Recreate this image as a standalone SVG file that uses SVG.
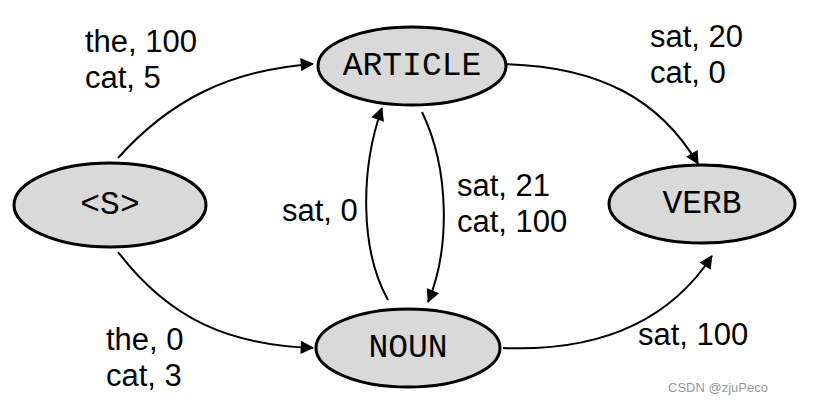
<svg xmlns="http://www.w3.org/2000/svg" width="816" height="406" viewBox="0 0 816 406">
<style>
.n{fill:#d9d9d9;stroke:#000;stroke-width:3}
.nt{font-family:"Liberation Mono","Courier New",monospace;font-size:33px;text-anchor:middle;dominant-baseline:central}
.l{font-family:"Liberation Sans",Arial,sans-serif;font-size:31px}
.e{fill:none;stroke:#000;stroke-width:2;marker-end:url(#a)}
</style>
<defs><marker id="a" viewBox="0 0 10 10" refX="9" refY="5" markerWidth="7" markerHeight="7" orient="auto" markerUnits="userSpaceOnUse" style="overflow:visible"><path d="M0,0L10,5L0,10z" transform="scale(1.9) translate(-4.5,-2.5)"/></marker></defs>
<rect width="816" height="406" fill="#fff"/>
<g id="connectors">
<path class="e" d="M118,158 C170,100 230,70 313,64"/>
<path class="e" d="M118,252 C170,320 230,345 313,348"/>
<path class="e" d="M503,64 C600,66 660,100 698,164"/>
<path class="e" d="M503,348 C600,352 670,320 712,256"/>
<path class="e" d="M422,112 C450,170 450,250 428,302"/>
<path class="e" d="M388,300 C360,250 360,170 382,108"/>
</g>
<g id="S"><ellipse class="n" cx="110" cy="205" rx="96" ry="42"/><text class="nt" x="110" y="205">&lt;S&gt;</text></g>
<g id="ARTICLE"><ellipse class="n" cx="412" cy="66" rx="94" ry="39"/><text class="nt" x="412" y="66">ARTICLE</text></g>
<g id="NOUN"><ellipse class="n" cx="408" cy="348" rx="92" ry="39"/><text class="nt" x="408" y="348">NOUN</text></g>
<g id="VERB"><ellipse class="n" cx="702" cy="204" rx="93" ry="39"/><text class="nt" x="702" y="204">VERB</text></g>
<g id="labels">
<text class="l" x="85" y="52">the, 100</text><text class="l" x="85" y="88">cat, 5</text>
<text class="l" x="650" y="47">sat, 20</text><text class="l" x="650" y="83">cat, 0</text>
<text class="l" x="457" y="196">sat, 21</text><text class="l" x="457" y="232">cat, 100</text>
<text class="l" x="282" y="221">sat, 0</text>
<text class="l" x="106" y="350">the, 0</text><text class="l" x="106" y="386">cat, 3</text>
<text class="l" x="638" y="345">sat, 100</text>
<text x="668" y="392" style="font-family:'Liberation Sans',sans-serif;font-size:13px;fill:#999">CSDN @zjuPeco</text>
</g>
</svg>
